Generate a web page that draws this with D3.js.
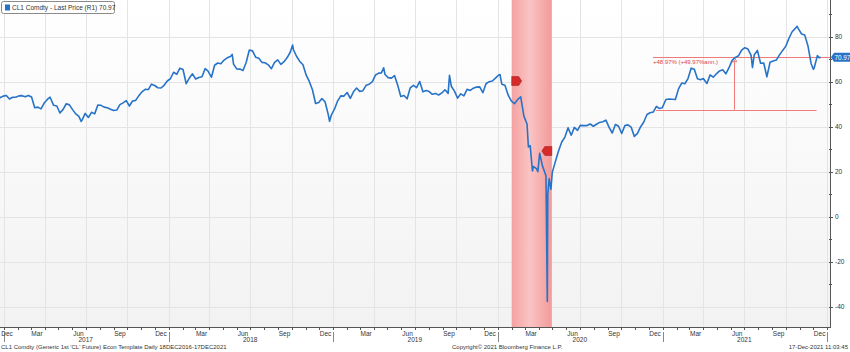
<!DOCTYPE html>
<html>
<head>
<meta charset="utf-8">
<script src="https://cdn.jsdelivr.net/npm/d3@7"></script>
<style>
  body { margin: 0; background: #fff; }
  svg { display: block; font-family: "Liberation Sans", Arial, sans-serif; }
  .lbl { font-size: 6.5px; fill: #333; }
  .foot { font-size: 6px; fill: #333; }
</style>
</head>
<body>
<svg id="chart" width="850" height="352"></svg>
<script>
'use strict';

// weekly closes (CL1 Comdty, last price)
var closes = [
  ['2016-12-16', 51.9], ['2016-12-23', 53.0], ['2016-12-30', 53.7],
  ['2017-01-06', 54.0], ['2017-01-13', 52.4], ['2017-01-20', 53.2], ['2017-01-27', 53.2],
  ['2017-02-03', 53.8], ['2017-02-10', 53.9], ['2017-02-17', 53.4], ['2017-02-24', 54.0],
  ['2017-03-03', 53.3], ['2017-03-10', 48.5], ['2017-03-17', 48.8], ['2017-03-24', 48.0], ['2017-03-31', 50.6],
  ['2017-04-07', 52.2], ['2017-04-13', 53.2], ['2017-04-21', 49.6], ['2017-04-28', 49.3],
  ['2017-05-05', 46.2], ['2017-05-12', 47.8], ['2017-05-19', 50.3], ['2017-05-26', 49.8],
  ['2017-06-02', 47.7], ['2017-06-09', 45.8], ['2017-06-16', 44.7], ['2017-06-21', 42.5], ['2017-06-23', 43.0], ['2017-06-30', 46.0],
  ['2017-07-07', 44.2], ['2017-07-14', 46.5], ['2017-07-21', 45.8], ['2017-07-28', 49.7],
  ['2017-08-04', 49.6], ['2017-08-11', 48.8], ['2017-08-18', 48.5], ['2017-08-25', 47.9],
  ['2017-09-01', 47.3], ['2017-09-08', 47.5], ['2017-09-15', 49.9], ['2017-09-22', 50.7], ['2017-09-29', 51.7],
  ['2017-10-06', 49.3], ['2017-10-13', 51.5], ['2017-10-20', 51.8], ['2017-10-27', 53.9],
  ['2017-11-03', 55.6], ['2017-11-10', 56.7], ['2017-11-17', 56.6], ['2017-11-24', 59.0],
  ['2017-12-01', 58.4], ['2017-12-08', 57.4], ['2017-12-15', 57.3], ['2017-12-22', 58.5], ['2017-12-29', 60.4],
  ['2018-01-05', 61.4], ['2018-01-12', 64.3], ['2018-01-19', 63.4], ['2018-01-26', 66.1],
  ['2018-02-02', 65.5], ['2018-02-09', 59.2], ['2018-02-16', 61.7], ['2018-02-23', 63.6],
  ['2018-03-02', 61.3], ['2018-03-09', 62.0], ['2018-03-16', 62.3], ['2018-03-23', 65.9], ['2018-03-29', 64.9],
  ['2018-04-06', 62.1], ['2018-04-13', 67.4], ['2018-04-20', 68.4], ['2018-04-27', 68.1],
  ['2018-05-04', 69.7], ['2018-05-11', 70.7], ['2018-05-18', 71.3], ['2018-05-22', 72.2], ['2018-05-25', 67.9],
  ['2018-06-01', 65.8], ['2018-06-08', 65.7], ['2018-06-15', 65.1], ['2018-06-22', 68.6], ['2018-06-29', 74.2],
  ['2018-07-06', 73.8], ['2018-07-13', 71.0], ['2018-07-20', 70.5], ['2018-07-27', 68.7],
  ['2018-08-03', 68.5], ['2018-08-10', 67.6], ['2018-08-17', 65.9], ['2018-08-24', 68.7], ['2018-08-31', 69.8],
  ['2018-09-07', 67.8], ['2018-09-14', 69.0], ['2018-09-21', 70.8], ['2018-09-28', 73.3],
  ['2018-10-03', 76.4], ['2018-10-05', 74.3], ['2018-10-12', 71.3], ['2018-10-19', 69.1], ['2018-10-26', 67.6],
  ['2018-11-02', 63.1], ['2018-11-09', 60.2], ['2018-11-16', 56.5], ['2018-11-23', 50.4], ['2018-11-30', 50.9],
  ['2018-12-07', 52.6], ['2018-12-14', 51.2], ['2018-12-21', 45.6], ['2018-12-24', 42.5], ['2018-12-28', 45.3],
  ['2019-01-04', 48.0], ['2019-01-11', 51.6], ['2019-01-18', 53.8], ['2019-01-25', 53.7],
  ['2019-02-01', 55.3], ['2019-02-08', 52.7], ['2019-02-15', 55.6], ['2019-02-22', 57.3],
  ['2019-03-01', 55.8], ['2019-03-08', 56.1], ['2019-03-15', 58.5], ['2019-03-22', 59.0], ['2019-03-29', 60.1],
  ['2019-04-05', 63.1], ['2019-04-12', 63.9], ['2019-04-18', 64.0], ['2019-04-23', 66.3], ['2019-04-26', 63.3],
  ['2019-05-03', 61.9], ['2019-05-10', 61.7], ['2019-05-17', 62.8], ['2019-05-24', 58.6], ['2019-05-31', 53.5],
  ['2019-06-07', 54.0], ['2019-06-14', 52.5], ['2019-06-21', 57.4], ['2019-06-28', 58.5],
  ['2019-07-05', 57.5], ['2019-07-12', 60.2], ['2019-07-19', 55.6], ['2019-07-26', 56.2],
  ['2019-08-02', 55.7], ['2019-08-09', 54.5], ['2019-08-16', 54.9], ['2019-08-23', 54.2], ['2019-08-30', 55.1],
  ['2019-09-06', 56.5], ['2019-09-13', 54.9], ['2019-09-16', 62.9], ['2019-09-20', 58.1], ['2019-09-27', 55.9],
  ['2019-10-04', 52.8], ['2019-10-11', 54.7], ['2019-10-18', 53.8], ['2019-10-25', 56.7],
  ['2019-11-01', 56.2], ['2019-11-08', 57.2], ['2019-11-15', 57.7], ['2019-11-22', 57.8], ['2019-11-29', 55.2],
  ['2019-12-06', 59.2], ['2019-12-13', 60.1], ['2019-12-20', 60.4], ['2019-12-27', 61.7],
  ['2020-01-03', 63.1], ['2020-01-06', 63.3], ['2020-01-10', 59.0], ['2020-01-17', 58.5], ['2020-01-24', 54.2], ['2020-01-31', 51.6],
  ['2020-02-07', 50.3], ['2020-02-14', 52.1], ['2020-02-21', 53.4], ['2020-02-28', 44.8],
  ['2020-03-06', 41.3], ['2020-03-09', 31.1], ['2020-03-13', 31.7], ['2020-03-18', 20.4], ['2020-03-20', 22.4],
  ['2020-03-27', 21.5], ['2020-03-30', 20.1], ['2020-04-03', 28.3], ['2020-04-09', 22.8], ['2020-04-17', 18.3],
  ['2020-04-20', -37.6], ['2020-04-21', 10.0], ['2020-04-24', 16.9], ['2020-04-28', 12.3],
  ['2020-05-01', 19.8], ['2020-05-08', 24.7], ['2020-05-15', 29.4], ['2020-05-22', 33.3], ['2020-05-29', 35.5],
  ['2020-06-05', 39.6], ['2020-06-12', 36.3], ['2020-06-19', 39.8], ['2020-06-26', 38.5],
  ['2020-07-02', 40.7], ['2020-07-10', 40.6], ['2020-07-17', 40.6], ['2020-07-24', 41.3], ['2020-07-31', 40.3],
  ['2020-08-07', 41.2], ['2020-08-14', 42.0], ['2020-08-21', 42.3], ['2020-08-28', 43.0],
  ['2020-09-04', 39.8], ['2020-09-11', 37.3], ['2020-09-18', 41.1], ['2020-09-25', 40.3],
  ['2020-10-02', 37.1], ['2020-10-09', 40.6], ['2020-10-16', 40.9], ['2020-10-23', 39.9], ['2020-10-30', 35.8],
  ['2020-11-06', 37.1], ['2020-11-13', 40.1], ['2020-11-20', 42.2], ['2020-11-27', 45.5],
  ['2020-12-04', 46.3], ['2020-12-11', 46.6], ['2020-12-18', 49.1], ['2020-12-24', 48.2], ['2020-12-31', 48.5],
  ['2021-01-08', 52.2], ['2021-01-15', 52.4], ['2021-01-22', 52.3], ['2021-01-29', 52.2],
  ['2021-02-05', 56.9], ['2021-02-12', 59.5], ['2021-02-19', 59.2], ['2021-02-26', 61.5],
  ['2021-03-05', 66.1], ['2021-03-12', 65.6], ['2021-03-19', 61.4], ['2021-03-26', 61.0],
  ['2021-04-01', 61.5], ['2021-04-09', 59.3], ['2021-04-16', 63.1], ['2021-04-23', 62.1], ['2021-04-30', 63.6],
  ['2021-05-07', 64.9], ['2021-05-14', 65.4], ['2021-05-21', 63.6], ['2021-05-28', 66.3],
  ['2021-06-04', 69.6], ['2021-06-11', 70.9], ['2021-06-18', 71.6], ['2021-06-25', 74.1],
  ['2021-07-02', 75.2], ['2021-07-09', 74.6], ['2021-07-16', 71.8], ['2021-07-19', 66.4], ['2021-07-23', 72.1], ['2021-07-30', 74.0],
  ['2021-08-06', 68.3], ['2021-08-13', 68.4], ['2021-08-20', 62.3], ['2021-08-27', 68.7],
  ['2021-09-03', 69.3], ['2021-09-10', 69.7], ['2021-09-17', 72.0], ['2021-09-24', 74.0],
  ['2021-10-01', 75.9], ['2021-10-08', 79.4], ['2021-10-15', 82.3], ['2021-10-22', 83.8], ['2021-10-26', 84.7], ['2021-10-29', 83.6],
  ['2021-11-05', 81.3], ['2021-11-12', 80.8], ['2021-11-19', 76.1], ['2021-11-26', 68.2],
  ['2021-12-01', 65.6], ['2021-12-03', 66.3], ['2021-12-10', 71.7], ['2021-12-14', 70.7], ['2021-12-17', 70.97]
];

var yTicks = [-40, -20, 0, 20, 40, 60, 80];
var monthLabels = ['Dec', 'Mar', 'Jun', 'Sep'];
var years = [2017, 2018, 2019, 2020, 2021];
var recession = ['2020-02-01', '2020-04-30'];
var events = [
  { date: '2020-02-01', value: 60.4, dir: 1 },
  { date: '2020-04-30', value: 29.3, dir: -1 }
];
var change = { from: '2020-12-17', to: '2021-12-17', mid: '2021-06-09', base: 47.64, last: 70.97,
  text: '+48.97% (+49.97%ann.)' };

var legendText = 'CL1 Comdty - Last Price (R1) 70.97';
var footLeft = 'CL1 Comdty (Generic 1st \'CL\' Future) Econ Template  Daily 18DEC2016-17DEC2021';
var footMid = 'Copyright\u00a9 2021 Bloomberg Finance L.P.';
var footRight = '17-Dec-2021 11:03:45';

var parse = d3.timeParse('%Y-%m-%d'),
    series = closes.map(function (d) { return { date: parse(d[0]), value: d[1] }; }),
    plotW = 830,
    plotH = 327,
    blue = '#2773c8',
    red = '#ee7a7a',
    svg = d3.select('#chart');

var x = d3.scaleTime().domain([new Date(2016, 11, 23), new Date(2022, 0, 7)]).range([0, plotW]),
    y = d3.scaleLinear().domain([-48.9, 96.4]).range([plotH, 0]);

var defs = svg.append('defs');
var bg = defs.append('linearGradient').attr('id', 'bg').attr('x1', 0).attr('y1', 0).attr('x2', 0).attr('y2', 1);
bg.append('stop').attr('offset', '0%').attr('stop-color', '#ffffff');
bg.append('stop').attr('offset', '100%').attr('stop-color', '#f2f2f2');
var rg = defs.append('linearGradient').attr('id', 'rec').attr('x1', 0).attr('y1', 0).attr('x2', 1).attr('y2', 0);
rg.append('stop').attr('offset', '0%').attr('stop-color', '#f5a1a1');
rg.append('stop').attr('offset', '45%').attr('stop-color', '#fac4c4');
rg.append('stop').attr('offset', '65%').attr('stop-color', '#f8b4b4');
rg.append('stop').attr('offset', '100%').attr('stop-color', '#f29a9a');
defs.append('clipPath').attr('id', 'clip').append('rect').attr('width', plotW).attr('height', plotH);

svg.append('rect').attr('width', plotW).attr('height', plotH).attr('fill', 'url(#bg)');

// grid
var grid = svg.append('g').attr('stroke', '#e4e4e4').attr('stroke-width', 1);
grid.selectAll('line.h').data(yTicks).enter().append('line')
  .attr('x1', 0).attr('x2', plotW)
  .attr('y1', function (d) { return Math.round(y(d)) + 0.5; })
  .attr('y2', function (d) { return Math.round(y(d)) + 0.5; });
grid.selectAll('line.v').data(d3.timeMonth.every(3).range(x.domain()[0], x.domain()[1])).enter().append('line')
  .attr('y1', 0).attr('y2', plotH)
  .attr('x1', function (d) { return Math.round(x(d)) + 0.5; })
  .attr('x2', function (d) { return Math.round(x(d)) + 0.5; });

// recession band
svg.append('rect')
  .attr('x', x(parse(recession[0])))
  .attr('width', x(parse(recession[1])) - x(parse(recession[0])))
  .attr('y', 0).attr('height', plotH)
  .attr('fill', 'url(#rec)');

// change annotation
var ann = svg.append('g').attr('stroke', red).attr('stroke-width', 1).attr('fill', 'none');
ann.append('line').attr('x1', x(parse(change.from)) - 3).attr('x2', plotW)
  .attr('y1', Math.round(y(change.last)) + 0.5).attr('y2', Math.round(y(change.last)) + 0.5);
ann.append('line').attr('x1', x(parse(change.from))).attr('x2', x(parse(change.to)) - 4)
  .attr('y1', Math.round(y(change.base)) + 0.5).attr('y2', Math.round(y(change.base)) + 0.5);
ann.append('line').attr('x1', Math.round(x(parse(change.mid))) + 0.5).attr('x2', Math.round(x(parse(change.mid))) + 0.5)
  .attr('y1', y(change.last) + 3).attr('y2', y(change.base));
var tx = x(parse(change.mid)), ty = y(change.last);
ann.append('path').attr('d', 'M' + tx + ',' + (ty + 0.5) + 'l-2.5,4h5z');
svg.append('text').attr('x', x(parse(change.from)) - 3).attr('y', y(change.last) + 6.5)
  .attr('font-size', '6px').attr('fill', '#e04545').text(change.text);

// price line
svg.append('path').datum(series)
  .attr('clip-path', 'url(#clip)')
  .attr('fill', 'none').attr('stroke', blue).attr('stroke-width', 1.6)
  .attr('stroke-linejoin', 'round')
  .attr('d', d3.line().x(function (d) { return x(d.date); }).y(function (d) { return y(d.value); }));

// event markers
events.forEach(function (e) {
  var ex = x(parse(e.date)), ey = y(e.value), w = 10, h = 9;
  var p = e.dir > 0
    ? 'M' + ex + ',' + (ey - h / 2) + 'h' + (w - 3) + 'l3,' + (h / 2) + 'l-3,' + (h / 2) + 'h' + (3 - w) + 'z'
    : 'M' + ex + ',' + (ey - h / 2) + 'h' + (3 - w) + 'l-3,' + (h / 2) + 'l3,' + (h / 2) + 'h' + (w - 3) + 'z';
  svg.append('path').attr('d', p).attr('fill', '#d42a2a').attr('stroke', '#a01818').attr('stroke-width', 0.5);
});

// right axis
var ax = svg.append('g').attr('stroke', '#555').attr('stroke-width', 1);
ax.append('line').attr('x1', plotW + 0.5).attr('x2', plotW + 0.5).attr('y1', 0).attr('y2', plotH + 1);
ax.selectAll('line.mi').data(d3.range(-40, 100, 10)).enter().append('line')
  .attr('x1', plotW - 1).attr('x2', function (d) { return d % 20 === 0 ? plotW + 3 : plotW + 2; })
  .attr('y1', function (d) { return Math.round(y(d)) + 0.5; })
  .attr('y2', function (d) { return Math.round(y(d)) + 0.5; });
svg.selectAll('text.yt').data(yTicks).enter().append('text').attr('class', 'lbl')
  .attr('x', plotW + 5).attr('y', function (d) { return y(d) + 2.3; })
  .text(function (d) { return d; });

// last price tag
var ly = y(change.last);
svg.append('path').attr('d', 'M' + (plotW + 1) + ',' + ly + 'l3,-4.5h18v9h-18z').attr('fill', blue);
svg.append('text').attr('x', plotW + 12.5).attr('y', ly + 2.3).attr('text-anchor', 'middle')
  .attr('font-size', '6.3px').attr('fill', '#fff').text(change.last.toFixed(2));

// bottom axis
var bx = svg.append('g').attr('stroke', '#555').attr('stroke-width', 1);
bx.append('line').attr('x1', 0).attr('x2', plotW + 1).attr('y1', plotH + 0.5).attr('y2', plotH + 0.5);
bx.selectAll('line.m').data(d3.timeMonth.range(x.domain()[0], x.domain()[1])).enter().append('line')
  .attr('x1', function (d) { return Math.round(x(d)) + 0.5; })
  .attr('x2', function (d) { return Math.round(x(d)) + 0.5; })
  .attr('y1', plotH).attr('y2', plotH + 3);
bx.selectAll('line.y').data(d3.timeYear.range(new Date(2016, 11, 1), x.domain()[1])).enter().append('line')
  .attr('stroke', '#888')
  .attr('x1', function (d) { return Math.round(x(d)) + 0.5; })
  .attr('x2', function (d) { return Math.round(x(d)) + 0.5; })
  .attr('y1', plotH + 5).attr('y2', plotH + 15);

var labelMonths = d3.timeMonth.range(new Date(2016, 11, 1), new Date(2022, 0, 1))
  .filter(function (d) { return monthLabels.indexOf(d3.timeFormat('%b')(d)) >= 0; });
svg.selectAll('text.mo').data(labelMonths).enter().append('text').attr('class', 'lbl')
  .attr('text-anchor', 'middle')
  .attr('x', function (d) { return Math.max(7, x(d3.timeDay.offset(d, 14))); })
  .attr('y', plotH + 8.5)
  .text(d3.timeFormat('%b'));
svg.selectAll('text.yr').data(years).enter().append('text').attr('class', 'lbl')
  .attr('text-anchor', 'middle')
  .attr('x', function (d) { return x(new Date(d, 6, 1)); })
  .attr('y', plotH + 15)
  .text(function (d) { return d; });

// legend
svg.append('rect').attr('x', 1.5).attr('y', 1.5).attr('width', 113).attr('height', 12).attr('rx', 2)
  .attr('fill', '#fff').attr('stroke', '#8a8a8a');
svg.append('rect').attr('x', 5).attr('y', 4.5).attr('width', 5).attr('height', 6).attr('fill', blue);
svg.append('text').attr('class', 'lbl').attr('x', 12).attr('y', 10).text(legendText);

// footer
svg.append('text').attr('class', 'foot').attr('x', 1).attr('y', 349).text(footLeft);
svg.append('text').attr('class', 'foot').attr('x', 452).attr('y', 349).text(footMid);
svg.append('text').attr('class', 'foot').attr('x', 848).attr('y', 349).attr('text-anchor', 'end').text(footRight);
</script>
</body>
</html>
